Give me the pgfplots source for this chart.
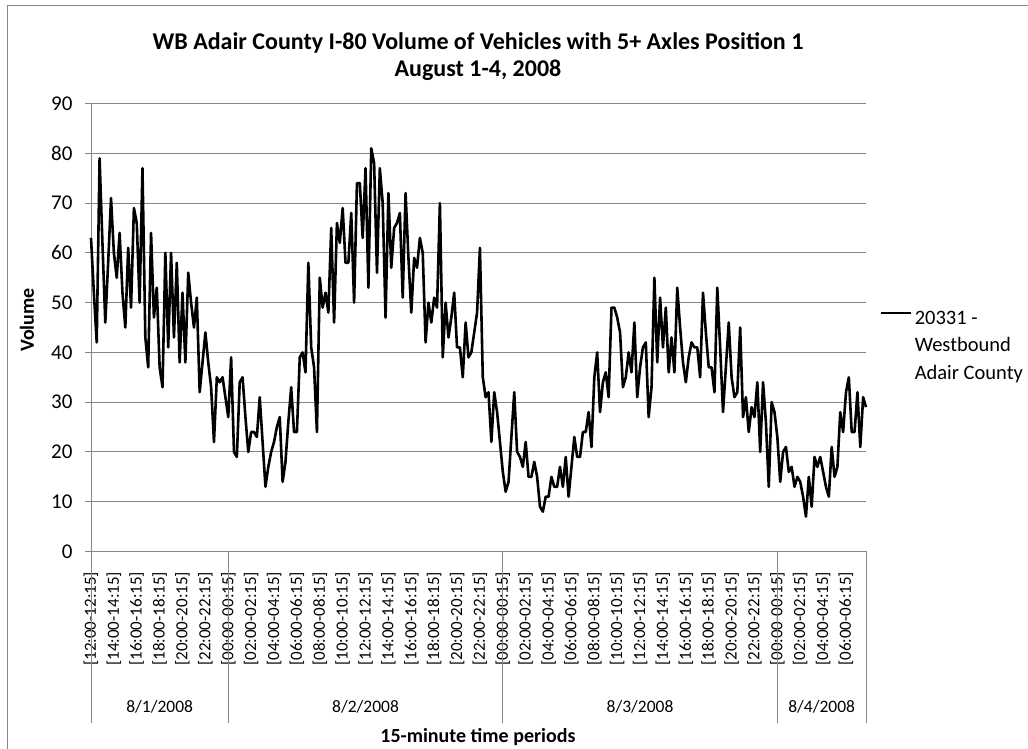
\documentclass[border=0pt]{standalone}
\usepackage{pgfplots}
\pgfplotsset{compat=1.18}
\usepackage{fontspec}
\setmainfont{Carlito}
\definecolor{gridgray}{RGB}{134,134,134}
\begin{document}
\begin{tikzpicture}[x=1pt,y=1pt]
\useasboundingbox (0,0) rectangle (1028,749);
\fill[white] (0,0) rectangle (1028,749);
\draw[gridgray, line width=1pt] (7,0) -- (7,743) -- (1028,743);
\begin{axis}[
  at={(91pt,197.5pt)}, anchor=south west,
  scale only axis, width=775pt, height=448pt,
  xmin=0, xmax=271, ymin=0, ymax=90,
  ytick={0,10,...,90},
  xtick={0,8,...,264},
  xticklabels={{[12:00-12:15]},{[14:00-14:15]},{[16:00-16:15]},{[18:00-18:15]},{[20:00-20:15]},{[22:00-22:15]},
    {[00:00-00:15]},{[02:00-02:15]},{[04:00-04:15]},{[06:00-06:15]},{[08:00-08:15]},{[10:00-10:15]},{[12:00-12:15]},{[14:00-14:15]},{[16:00-16:15]},{[18:00-18:15]},{[20:00-20:15]},{[22:00-22:15]},
    {[00:00-00:15]},{[02:00-02:15]},{[04:00-04:15]},{[06:00-06:15]},{[08:00-08:15]},{[10:00-10:15]},{[12:00-12:15]},{[14:00-14:15]},{[16:00-16:15]},{[18:00-18:15]},{[20:00-20:15]},{[22:00-22:15]},
    {[00:00-00:15]},{[02:00-02:15]},{[04:00-04:15]},{[06:00-06:15]}},
  axis x line*=bottom, axis y line*=left,
  axis line style={-, gridgray, line width=0.9pt},
  ymajorgrids, grid style={gridgray, line width=0.9pt},
  ytick style={gridgray, line width=0.9pt},
  xtick style={draw=none},
  tick align=outside, major tick length=6pt,
  /pgf/number format/assume math mode=true,
  yticklabel style={font=\fontsize{21}{24}\selectfont, text=black, xshift=-9pt},
  xticklabel style={yshift=-11pt, font=\fontsize{17}{20}\selectfont, rotate=90, anchor=east, text=black},
  clip=false,
  legend style={at={(1.018,0.555)}, anchor=north west, draw=none, fill=none, inner sep=0pt,
    font=\fontsize{20.5}{27.5}\selectfont},
  legend cell align=left,
  legend image code/.code={\draw[#1] (0pt,0.5ex) -- (30pt,0.5ex);},
]
\addplot[black, line width=2.6pt, line join=round] coordinates {
(0,63) (1,52) (2,42) (3,79) (4,62) (5,46) (6,58) (7,71) (8,60) (9,55)
(10,64) (11,52) (12,45) (13,61) (14,49) (15,69) (16,66) (17,50) (18,77) (19,43)
(20,37) (21,64) (22,47) (23,53) (24,37) (25,33) (26,60) (27,41) (28,60) (29,43)
(30,58) (31,38) (32,52) (33,38) (34,56) (35,50) (36,45) (37,51) (38,32) (39,38)
(40,44) (41,38) (42,33) (43,22) (44,35) (45,34) (46,35) (47,31) (48,27) (49,39)
(50,20) (51,19) (52,34) (53,35) (54,27) (55,20) (56,24) (57,24) (58,23) (59,31)
(60,22) (61,13) (62,17) (63,20) (64,22) (65,25) (66,27) (67,14) (68,18) (69,26)
(70,33) (71,24) (72,24) (73,39) (74,40) (75,36) (76,58) (77,41) (78,37) (79,24)
(80,55) (81,49) (82,52) (83,48) (84,65) (85,46) (86,66) (87,62) (88,69) (89,58)
(90,58) (91,68) (92,50) (93,74) (94,74) (95,63) (96,77) (97,53) (98,81) (99,78)
(100,56) (101,77) (102,70) (103,47) (104,72) (105,57) (106,65) (107,66) (108,68) (109,51)
(110,72) (111,59) (112,48) (113,59) (114,57) (115,63) (116,60) (117,42) (118,50) (119,46)
(120,51) (121,49) (122,70) (123,39) (124,50) (125,43) (126,47) (127,52) (128,41) (129,41)
(130,35) (131,46) (132,39) (133,40) (134,44) (135,48) (136,61) (137,35) (138,31) (139,32)
(140,22) (141,32) (142,28) (143,22) (144,16) (145,12) (146,14) (147,23) (148,32) (149,20)
(150,19) (151,17) (152,22) (153,15) (154,15) (155,18) (156,15) (157,9) (158,8) (159,11)
(160,11) (161,15) (162,13) (163,13) (164,17) (165,13) (166,19) (167,11) (168,17) (169,23)
(170,19) (171,19) (172,24) (173,24) (174,28) (175,21) (176,35) (177,40) (178,28) (179,34)
(180,36) (181,31) (182,49) (183,49) (184,47) (185,44) (186,33) (187,35) (188,40) (189,36)
(190,46) (191,31) (192,37) (193,41) (194,42) (195,27) (196,33) (197,55) (198,38) (199,51)
(200,41) (201,49) (202,36) (203,43) (204,36) (205,53) (206,45) (207,38) (208,34) (209,39)
(210,42) (211,41) (212,41) (213,35) (214,52) (215,44) (216,37) (217,37) (218,32) (219,53)
(220,41) (221,28) (222,37) (223,46) (224,35) (225,31) (226,32) (227,45) (228,27) (229,31)
(230,24) (231,29) (232,27) (233,34) (234,20) (235,34) (236,26) (237,13) (238,30) (239,28)
(240,23) (241,14) (242,20) (243,21) (244,16) (245,17) (246,13) (247,15) (248,14) (249,11)
(250,7) (251,15) (252,9) (253,19) (254,17) (255,19) (256,16) (257,13) (258,11) (259,21)
(260,15) (261,17) (262,28) (263,24) (264,32) (265,35) (266,24) (267,24) (268,32) (269,21)
(270,31) (271,29)
};
\addlegendentry{\begin{tabular}[t]{@{}l@{}}20331 -\\Westbound\\Adair County\end{tabular}}
\pgfplotsinvokeforeach{0,48,144,240,271}{
  \draw[gridgray, line width=0.9pt] (axis cs:#1,0) -- ++(0,-171.5pt);
}
\node[font=\fontsize{17.5}{20}\selectfont, yshift=-155.5pt] at (axis cs:24,0) {8/1/2008};
\node[font=\fontsize{17.5}{20}\selectfont, yshift=-155.5pt] at (axis cs:96,0) {8/2/2008};
\node[font=\fontsize{17.5}{20}\selectfont, yshift=-155.5pt] at (axis cs:192,0) {8/3/2008};
\node[font=\fontsize{17.5}{20}\selectfont, yshift=-155.5pt] at (axis cs:255.5,0) {8/4/2008};
\end{axis}
\node[font=\bfseries\fontsize{24}{29}\selectfont] at (478,706) {WB Adair County I-80 Volume of Vehicles with 5+ Axles Position 1};
\node[font=\bfseries\fontsize{24}{29}\selectfont] at (478,679) {August 1-4, 2008};
\node[font=\bfseries\fontsize{20}{24}\selectfont] at (478,12) {15-minute time periods};
\node[font=\bfseries\fontsize{20}{24}\selectfont, rotate=90] at (27,429) {Volume};
\end{tikzpicture}
\end{document}
